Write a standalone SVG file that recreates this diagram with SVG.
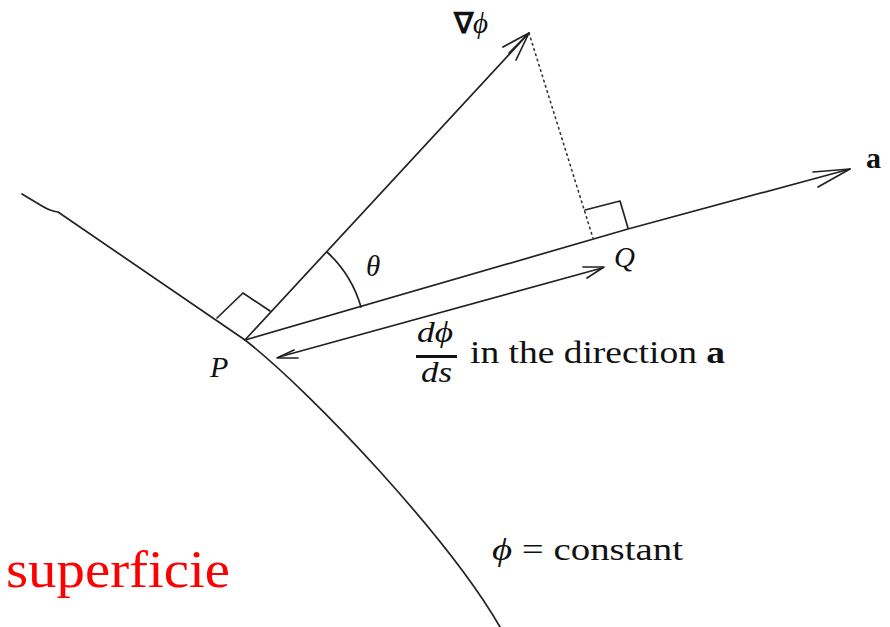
<svg xmlns="http://www.w3.org/2000/svg" width="890" height="627" viewBox="0 0 890 627">
<style>
.ln{fill:none;stroke:#222;stroke-width:1.7;stroke-linecap:round;stroke-linejoin:round}
.dot{fill:none;stroke:#333;stroke-width:1.6;stroke-dasharray:1.5 4;stroke-linecap:round}
.t{font-family:'Liberation Serif','Times New Roman',serif;fill:#111}
.i{font-style:italic}
.b{font-weight:bold}
</style>
<rect width="890" height="627" fill="#fff"/>
<g id="surface">
<path class="ln" d="M22,194 L42,206 Q50,211 58,212 L245,340 C315,395 450,540 500,627"/>
<path class="ln" d="M217,318 L243,293 L270,311"/>
</g>
<g id="connectors">
<g id="grad">
<path class="ln" d="M245,340 L529,33"/>
<path class="ln" d="M503,47 L529,33 L516,60 M509,53 L529,33"/>
</g>
<g id="dir-a">
<path class="ln" d="M245,340 L628,229 L850,169"/>
<path class="ln" d="M813,172 L850,169 L818,187"/>
</g>
<path id="proj" class="dot" d="M529,33 L593,238"/>
<path id="q-box" class="ln" d="M585,210 L620,201 L628,228"/>
<path id="theta-arc" class="ln" d="M327,252 A120,120 0 0 1 361,307"/>
<g id="deriv">
<path class="ln" d="M279,357 L602,268"/>
<path class="ln" d="M294,350 L277,358 L298,358"/>
<path class="ln" d="M583,267 L604,267 L587,278"/>
</g>
</g>
<g id="labels">
<text class="t b" x="454" y="33" font-size="29">∇<tspan class="i" font-weight="normal">ϕ</tspan></text>
<text class="t b" x="866" y="168" font-size="30">a</text>
<text class="t i" x="614" y="267" font-size="29">Q</text>
<text class="t i" x="210" y="377" font-size="30">P</text>
<text class="t i" x="366" y="276" font-size="29">θ</text>
<text class="t i" x="417" y="342" font-size="29" textLength="36" lengthAdjust="spacingAndGlyphs">dϕ</text>
<rect x="416" y="355" width="41" height="3" fill="#111"/>
<text class="t i" x="421" y="382" font-size="29" textLength="31" lengthAdjust="spacingAndGlyphs">ds</text>
<text class="t" x="470" y="363" font-size="31" textLength="255" lengthAdjust="spacingAndGlyphs">in the direction <tspan class="b">a</tspan></text>
<text class="t" x="492" y="560" font-size="31" textLength="191" lengthAdjust="spacingAndGlyphs"><tspan class="i">ϕ</tspan> = constant</text>
<text x="6" y="587" font-family="'Liberation Serif','Times New Roman',serif" font-size="52" fill="#ff0000" textLength="224" lengthAdjust="spacingAndGlyphs">superficie</text>
</g>
</svg>
